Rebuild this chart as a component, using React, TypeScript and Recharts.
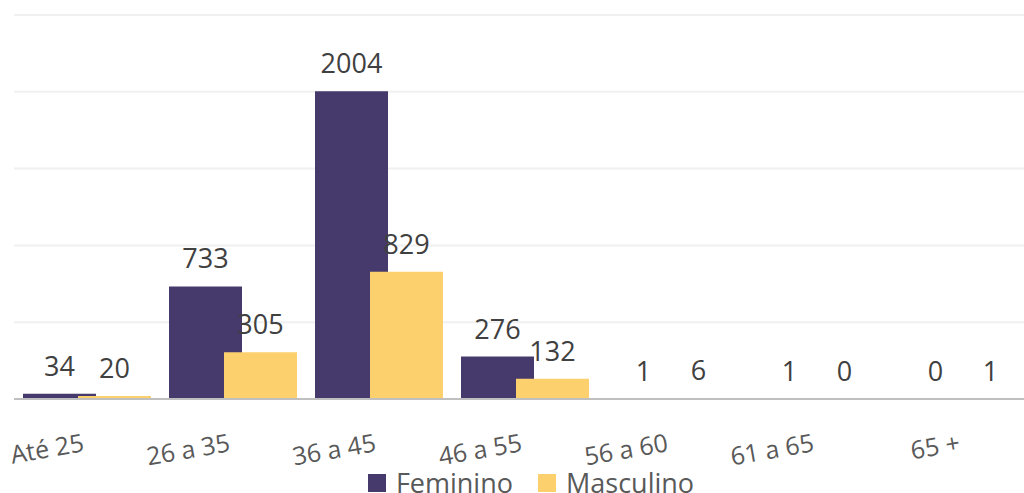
import { BarChart, Bar, XAxis, YAxis, CartesianGrid, Legend, LabelList } from "recharts";

const CATEGORIES = ["Até 25", "26 a 35", "36 a 45", "46 a 55", "56 a 60", "61 a 65", "65 +"];
const FEMININO = [34, 733, 2004, 276, 1, 1, 0];
const MASCULINO = [20, 305, 829, 132, 6, 0, 1];
const Y_TICKS = [0, 500, 1000, 1500, 2000, 2500];

const COLORS = { feminino: "#463A6C", masculino: "#FDD06E" };
const FONT = "'Open Sans', 'Noto Sans', sans-serif";

const data = CATEGORIES.map((name, i) => ({ name, feminino: FEMININO[i], masculino: MASCULINO[i] }));

function AngledTick({ x, y, payload }: any) {
  const tx = x - 2;
  const ty = y + 46;
  return (
    <text x={tx} y={ty} transform={`rotate(-10, ${tx}, ${ty})`} textAnchor="end"
      fill="#595959" fontSize={25} fontFamily={FONT}>
      {payload.value}
    </text>
  );
}

function LegendBox() {
  const items = [
    { label: "Feminino", color: COLORS.feminino },
    { label: "Masculino", color: COLORS.masculino },
  ];
  return (
    <div style={{ display: "flex", justifyContent: "center", gap: 25, fontFamily: FONT, fontSize: 27, color: "#595959", lineHeight: "35px", paddingLeft: 12 }}>
      {items.map((it) => (
        <div key={it.label} style={{ display: "flex", alignItems: "center" }}>
          <span style={{ width: 18, height: 18, background: it.color, marginRight: 10, display: "inline-block" }} />
          {it.label}
        </div>
      ))}
    </div>
  );
}

export default function App() {
  return (
    <div style={{ position: "absolute", left: 0, top: 0, width: 1024, height: 493, overflow: "hidden", background: "#fff" }}>
      <BarChart width={1040} height={500} data={data} barSize={73} barGap={-18}
        margin={{ top: 15, right: 4, left: 14, bottom: 0 }}>
        <CartesianGrid horizontal vertical={false} stroke="#F0F0F0" strokeWidth={2} />
        <YAxis hide domain={[0, 2500]} ticks={Y_TICKS} />
        <XAxis dataKey="name" axisLine={{ stroke: "#BFBFBF", strokeWidth: 2 }} tickLine={false}
          tick={<AngledTick />} interval={0} height={66} tickMargin={0} />
        <Legend verticalAlign="bottom" content={<LegendBox />} />
        <Bar dataKey="feminino" name="Feminino" fill={COLORS.feminino} minPointSize={0.01} isAnimationActive={false}>
          <LabelList dataKey="feminino" position="top" offset={18} fill="#404040" fontSize={27} fontFamily={FONT} />
        </Bar>
        <Bar dataKey="masculino" name="Masculino" fill={COLORS.masculino} minPointSize={0.01} isAnimationActive={false}>
          <LabelList dataKey="masculino" position="top" offset={18} fill="#404040" fontSize={27} fontFamily={FONT} />
        </Bar>
      </BarChart>
    </div>
  );
}
